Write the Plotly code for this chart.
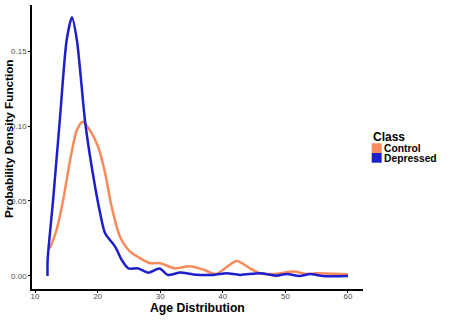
import plotly.graph_objects as go

DEPRESSED_AGE = [12.0, 12.02, 12.9, 14.0, 15.05, 15.9, 16.7, 18.0, 19.05, 20.4, 21.2,
                 22.8, 23.85, 24.9, 26.5, 28.1, 29.9, 31.2, 33.2, 35.3, 38.5, 40.6,
                 42.75, 46.0, 48.6, 50.2, 52.3, 53.9, 56.0, 60.0]
DEPRESSED_DENS = [0.0, 0.011, 0.051, 0.106, 0.157, 0.1725, 0.157, 0.103, 0.073, 0.042,
                  0.0285, 0.0196, 0.0107, 0.0051, 0.005, 0.0022, 0.005, 0.0007, 0.0023,
                  0.001, 0.0007, 0.0018, 0.0007, 0.0018, 0.0002, 0.0013, 0.0, 0.0013,
                  0.0, 0.0]

CONTROL_AGE = [12.4, 13.46, 14.5, 15.6, 16.66, 17.6, 18.8, 20.1, 21.2, 22.25, 23.6,
               25.2, 26.8, 28.4, 30.0, 32.3, 34.8, 36.9, 38.9, 42.2, 44.35, 45.9,
               48.1, 51.3, 53.4, 55.0, 60.0]
CONTROL_DENS = [0.0184, 0.031, 0.0507, 0.077, 0.097, 0.1029, 0.097, 0.086, 0.0687,
                0.046, 0.026, 0.0162, 0.0118, 0.0085, 0.0085, 0.0051, 0.0065, 0.0042,
                0.0013, 0.010, 0.0051, 0.0018, 0.0013, 0.0029, 0.0013, 0.0018, 0.0011]

CLASSES = ["Control", "Depressed"]
CLASS_COLORS = ["#f88b5c", "#1e1ecc"]

# plot area in pixels: x 32..363, y 5..289
L, R, T, B = 32, 105, 5, 41
PW, PH = 468 - L - R, 330 - T - B


def px(x):
    return (x - L) / PW


def py(y):
    return (330 - B - y) / PH


fig = go.Figure()

for xs, ys, color in [(CONTROL_AGE, CONTROL_DENS, CLASS_COLORS[0]),
                      (DEPRESSED_AGE, DEPRESSED_DENS, CLASS_COLORS[1])]:
    fig.add_trace(go.Scatter(
        x=xs, y=ys, mode="lines",
        line=dict(color=color, width=2.5, shape="spline", smoothing=0.7),
        showlegend=False, hoverinfo="x+y",
    ))

# hand-drawn legend with square fill keys, ggplot style
fig.add_annotation(
    x=px(371), y=py(137), xref="paper", yref="paper",
    text="<b>Class</b>", showarrow=False, xanchor="left", yanchor="middle",
    font=dict(size=12),
)
for i, (name, color) in enumerate(zip(CLASSES, CLASS_COLORS)):
    top = 143.3 + i * 9.7
    fig.add_shape(
        type="rect", xref="paper", yref="paper",
        x0=px(371.7), x1=px(381.7), y0=py(top), y1=py(top + 9.7),
        fillcolor=color, line=dict(width=0),
    )
    fig.add_annotation(
        x=px(382), y=py(top + 5), xref="paper", yref="paper",
        text=f"<b>{name}</b>", showarrow=False, xanchor="left", yanchor="middle",
        font=dict(size=10.3),
    )

fig.add_annotation(
    x=px(8), y=py(139), xref="paper", yref="paper",
    text="<b>Probability Density Function</b>", textangle=-90, showarrow=False,
    xanchor="center", yanchor="middle",
    font=dict(size=11.7),
)
fig.add_annotation(
    x=px(197), y=py(308), xref="paper", yref="paper",
    text="<b>Age Distribution</b>", showarrow=False,
    xanchor="center", yanchor="middle",
    font=dict(size=12.2),
)

fig.update_layout(
    width=468, height=330,
    margin=dict(l=L, r=R, t=T, b=B),
    plot_bgcolor="white",
    paper_bgcolor="white",
    font=dict(family="Liberation Sans, Arial, sans-serif", color="black"),
    showlegend=False,
    xaxis=dict(
        range=[9.52, 62.4], dtick=10, tick0=10,
        showline=True, linecolor="black", linewidth=1.5,
        ticks="outside", ticklen=2, tickcolor="black",
        ticklabelstandoff=-3,
        showgrid=False, zeroline=False, automargin=False,
        tickfont=dict(size=8, color="#4d4d4d"),
    ),
    yaxis=dict(
        range=[-0.0087, 0.1807], dtick=0.05, tick0=0, tickformat=".2f",
        showline=True, linecolor="black", linewidth=1.5,
        ticks="outside", ticklen=2, tickcolor="black",
        showgrid=False, zeroline=False, automargin=False,
        tickfont=dict(size=8, color="#4d4d4d"),
    ),
)

fig.write_html(
    "out.html",
    config={"displayModeBar": False},
    post_script="document.body.style.margin='0';",
)
